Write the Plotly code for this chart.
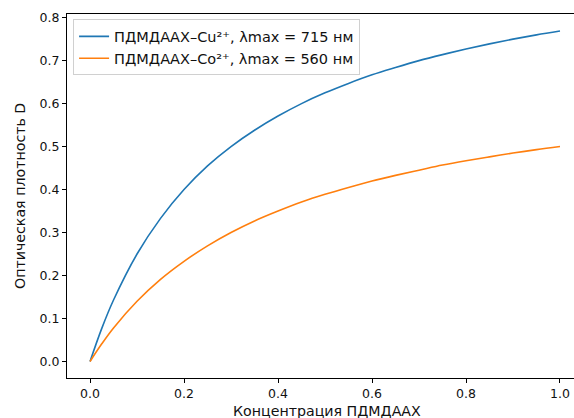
import plotly.graph_objects as go

conc = [0, 0.025, 0.05, 0.1, 0.15, 0.2, 0.25, 0.3, 0.35, 0.4, 0.45, 0.5,
        0.55, 0.6, 0.65, 0.7, 0.75, 0.8, 0.85, 0.9, 0.95, 1.0]
d_cu = [0, 0.077, 0.143, 0.25, 0.333, 0.4, 0.455, 0.5, 0.538, 0.571, 0.6, 0.625,
        0.647, 0.667, 0.684, 0.7, 0.714, 0.727, 0.739, 0.75, 0.76, 0.769]
d_co = [0, 0.041, 0.078, 0.14, 0.191, 0.233, 0.269, 0.3, 0.327, 0.35, 0.371, 0.389,
        0.405, 0.42, 0.433, 0.445, 0.457, 0.467, 0.476, 0.485, 0.493, 0.5]
names = ["ПДМДААХ–Cu²⁺, λmax = 715 нм", "ПДМДААХ–Co²⁺, λmax = 560 нм"]
x_ticks = [0.0, 0.2, 0.4, 0.6, 0.8, 1.0]
y_ticks = [0.0, 0.1, 0.2, 0.3, 0.4, 0.5, 0.6, 0.7, 0.8]

font = "DejaVu Sans"
fig = go.Figure()
fig.add_trace(go.Scatter(x=conc, y=d_cu, mode="lines", name=names[0],
                         line=dict(color="#1f77b4", width=1.6, shape="spline")))
fig.add_trace(go.Scatter(x=conc, y=d_co, mode="lines", name=names[1],
                         line=dict(color="#ff7f0e", width=1.6, shape="spline")))

fig.update_layout(
    width=574, height=418,
    margin=dict(l=67, r=0, t=14, b=40),
    paper_bgcolor="white", plot_bgcolor="white",
    font=dict(family=font, size=12.5, color="#111"),
    showlegend=True,
    legend=dict(x=0.012, y=0.985, xanchor="left", yanchor="top",
                bgcolor="rgba(255,255,255,0.8)", bordercolor="#d0d0d0", borderwidth=1,
                font=dict(family=font, size=14.5, color="#111"),
                tracegroupgap=0, itemwidth=30),
    xaxis=dict(range=[-0.049, 1.0298], tickvals=x_ticks,
               ticktext=[f"{v:.1f}" for v in x_ticks],
               showgrid=False, zeroline=False, showline=True, linecolor="black",
               linewidth=1, mirror=True, ticks="outside", ticklen=4, tickcolor="black"),
    yaxis=dict(range=[-0.0385, 0.8085], tickvals=y_ticks,
               ticktext=[f"{v:.1f}" for v in y_ticks],
               showgrid=False, zeroline=False, showline=True, linecolor="black",
               linewidth=1, mirror=False, ticks="outside", ticklen=4, tickcolor="black"),
    annotations=[
        dict(text="Концентрация ПДМДААХ", xref="paper", yref="paper",
             x=(327 - 67) / 507, y=-0.09, xanchor="center", yanchor="middle",
             showarrow=False, font=dict(family=font, size=14.2, color="#111")),
        dict(text="Оптическая плотность D", xref="paper", yref="paper",
             x=-(67 - 20) / 507, y=0.5, xanchor="center", yanchor="middle",
             textangle=-90, showarrow=False,
             font=dict(family=font, size=14.2, color="#111")),
    ],
)

fig.write_html("out.html", config={"displayModeBar": False},
               post_script="document.body.style.margin='0px';")
